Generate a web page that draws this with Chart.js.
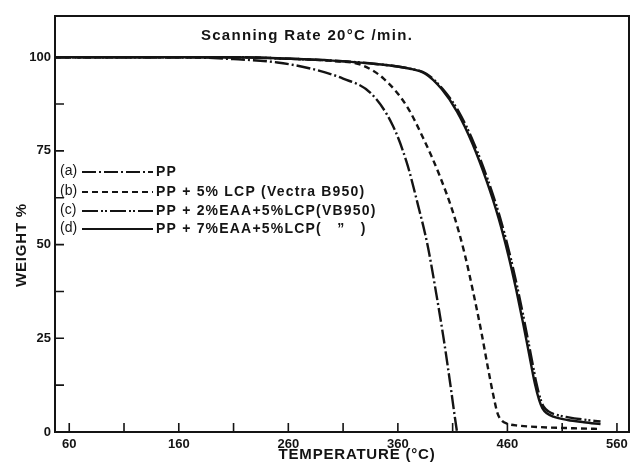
<!DOCTYPE html>
<html lang="en">
<head>
  <meta charset="utf-8">
  <title>TGA - Scanning Rate 20 C/min</title>
  <script src="https://cdn.jsdelivr.net/npm/chart.js@4.4.1/dist/chart.umd.min.js"></script>
  <style>
    html, body { margin: 0; padding: 0; background: #fff; }
    #wrap { width: 634px; height: 466px; }
  </style>
</head>
<body>
  <div id="wrap"><canvas id="tga" width="634" height="466"></canvas></div>

<script>
// ---- data (temperature in C, weight in %) ----
var tempA = [47, 160, 210, 250, 280, 310, 335, 355, 368, 378, 387, 395, 402, 408, 412, 414];
var weightA = [100, 100, 99.5, 98.6, 97, 94.3, 90.5, 82, 72, 61, 50, 37, 24.5, 12.5, 4, 0];

var tempB = [47, 210, 260, 300, 326, 347, 368, 383, 398, 411, 421, 429, 436, 442, 447, 451, 455, 460, 470, 490, 520, 545];
var weightB = [100, 100, 99.6, 99, 98, 94.3, 87, 78.5, 68.5, 58, 47.5, 37, 27, 17.5, 10, 5, 3, 2.2, 1.7, 1.3, 1.0, 0.8];

var tempC = [47, 210, 260, 300, 340, 370, 386, 401, 415.5, 429.5, 442.5, 453.5, 462.5, 469.5, 475.5, 481.5, 486.5, 490.5, 493.5, 497.5, 503.5, 516, 530, 545];
var weightC = [100, 100, 99.6, 99.1, 98.2, 97, 95.6, 91.5, 85.5, 77, 67, 57, 47, 38, 29.5, 20.5, 13, 8.5, 6.6, 5.5, 4.7, 3.9, 3.3, 2.8];

var tempD = [47, 210, 260, 300, 340, 370, 385, 400, 414, 428, 441, 452, 461, 468, 474, 480, 485, 489, 492, 496, 502, 515, 530, 545];
var weightD = [100, 100, 99.6, 99.1, 98.2, 97, 95.6, 91.5, 85.5, 77, 67, 57, 47, 38, 29.5, 20.5, 13, 8.5, 6.3, 5, 4.1, 3.2, 2.6, 2.1];

var seriesTags = ["(a)", "(b)", "(c)", "(d)"];
var seriesNames = [
  "PP",
  "PP + 5% LCP (Vectra B950)",
  "PP + 2%EAA+5%LCP(VB950)",
  "PP + 7%EAA+5%LCP(   \u201D   )"
];

var xTicks = [60, 110, 160, 210, 260, 310, 360, 410, 460, 510, 560];
var xLabels = [60, 160, 260, 360, 460, 560];
var yTicks = [0, 12.5, 25, 37.5, 50, 62.5, 75, 87.5, 100];
var yLabels = [0, 25, 50, 75, 100];

function pairs(xs, ys) {
  var out = [];
  for (var i = 0; i < xs.length; i++) out.push({ x: xs[i], y: ys[i] });
  return out;
}

var ink = "#141414";
var dashes = [[14, 3, 2, 3], [6, 4], [16, 3, 2, 2, 2, 3], []];

var datasets = [
  { data: pairs(tempA, weightA) },
  { data: pairs(tempB, weightB) },
  { data: pairs(tempC, weightC) },
  { data: pairs(tempD, weightD) }
].map(function (d, i) {
  d.label = seriesNames[i];
  d.borderColor = ink;
  d.backgroundColor = ink;
  d.borderWidth = 2.4;
  d.borderDash = dashes[i];
  d.pointRadius = 0;
  d.fill = false;
  d.cubicInterpolationMode = "monotone";
  return d;
});

// frame, inward ticks, axis titles, text labels
var paperPlugin = {
  id: "paper",
  afterDraw: function (chart) {
    var ctx = chart.ctx;
    var a = chart.chartArea;
    var xs = chart.scales.x, ys = chart.scales.y;
    ctx.save();
    ctx.strokeStyle = ink;
    ctx.lineWidth = 2;
    ctx.strokeRect(a.left, a.top, a.right - a.left, a.bottom - a.top);

    // ticks pointing into the plot
    ctx.lineWidth = 1.6;
    ctx.beginPath();
    xTicks.forEach(function (v) {
      var px = xs.getPixelForValue(v);
      ctx.moveTo(px, a.bottom);
      ctx.lineTo(px, a.bottom - 9);
    });
    yTicks.forEach(function (v) {
      var py = ys.getPixelForValue(v);
      ctx.moveTo(a.left, py);
      ctx.lineTo(a.left + 9, py);
    });
    ctx.stroke();

    ctx.fillStyle = ink;
    ctx.textAlign = "center";
    ctx.textBaseline = "middle";

    // title inside the frame
    ctx.font = "bold 15px 'Liberation Sans'";
    ctx.letterSpacing = "1.3px";
    ctx.fillText("Scanning Rate 20\u00B0C /min.", 307, 36);

    // axis titles
    ctx.letterSpacing = "0.8px";
    ctx.fillText("TEMPERATURE (\u00B0C)", 357, 455);
    ctx.save();
    ctx.translate(22, 245);
    ctx.rotate(-Math.PI / 2);
    ctx.fillText("WEIGHT %", 0, 0);
    ctx.restore();

    // legend block
    var rowY = [171, 191, 210, 228];
    for (var i = 0; i < 4; i++) {
      var y = rowY[i];
      ctx.letterSpacing = "0px";
      ctx.font = "14px 'Liberation Sans'";
      ctx.textAlign = "left";
      ctx.fillText(seriesTags[i], 60, y);
      ctx.setLineDash(dashes[i]);
      ctx.lineWidth = 2;
      ctx.beginPath();
      ctx.moveTo(82, y + 1);
      ctx.lineTo(153, y + 1);
      ctx.stroke();
      ctx.setLineDash([]);
      ctx.font = "bold 14px 'Liberation Sans'";
      ctx.letterSpacing = "1.2px";
      ctx.fillText(seriesNames[i], 156, y + 1);
    }
    ctx.restore();
  }
};

new Chart(document.getElementById("tga").getContext("2d"), {
  type: "line",
  data: { datasets: datasets },
  plugins: [paperPlugin],
  options: {
    responsive: false,
    animation: false,
    layout: { padding: { top: 16, right: 5, left: 0, bottom: 0 } },
    plugins: {
      legend: { display: false },
      tooltip: { enabled: false }
    },
    scales: {
      x: {
        type: "linear",
        min: 47,
        max: 571,
        afterBuildTicks: function (s) {
          s.ticks = xTicks.map(function (v) { return { value: v }; });
        },
        afterFit: function (s) { s.height = 34; },
        grid: { display: false, drawTicks: false },
        border: { display: false },
        ticks: {
          padding: 5,
          maxRotation: 0,
          autoSkip: false,
          color: ink,
          font: { family: "'Liberation Sans'", size: 13, weight: "bold" },
          callback: function (v) { return xLabels.indexOf(v) >= 0 ? String(v) : ""; }
        }
      },
      y: {
        type: "linear",
        min: 0,
        max: 111,
        afterBuildTicks: function (s) {
          s.ticks = yTicks.map(function (v) { return { value: v }; });
        },
        afterFit: function (s) { s.width = 55; },
        grid: { display: false, drawTicks: false },
        border: { display: false },
        ticks: {
          padding: 4,
          autoSkip: false,
          color: ink,
          font: { family: "'Liberation Sans'", size: 13, weight: "bold" },
          callback: function (v) { return yLabels.indexOf(v) >= 0 ? String(v) : ""; }
        }
      }
    }
  }
});
</script>
</body>
</html>
